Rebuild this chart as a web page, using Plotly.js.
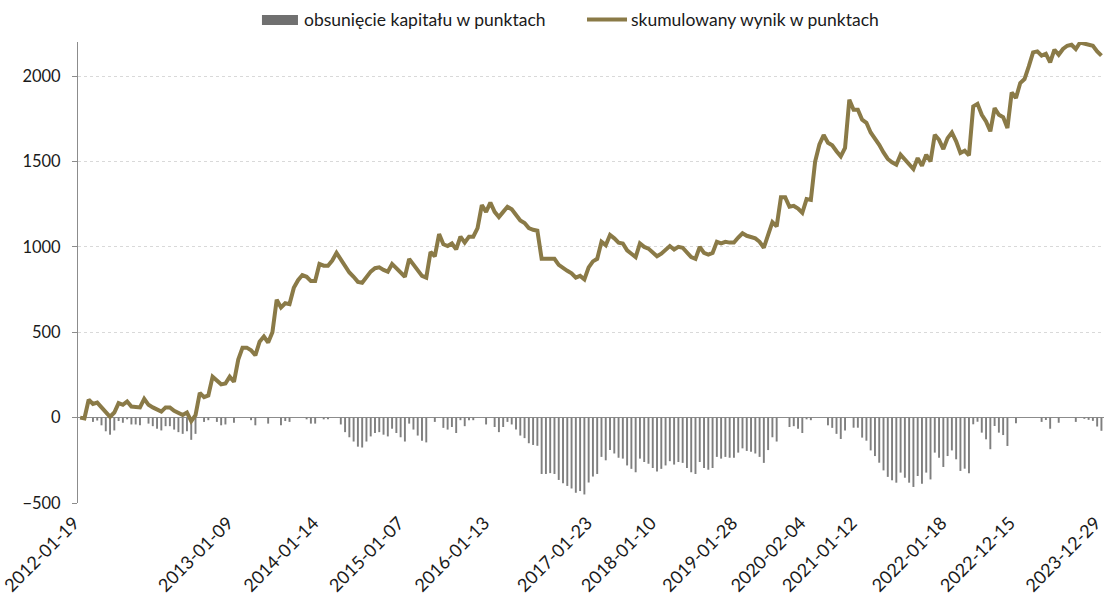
<!DOCTYPE html>
<html><head><meta charset="utf-8">
<script src="https://cdn.plot.ly/plotly-3.0.1.min.js"></script>
<style>html,body{margin:0;padding:0;background:#fff}#chart{width:1106px;height:598px}</style>
</head><body><div id="chart"></div>
<script>
const seriesNames = ['obsunięcie kapitału w punktach', 'skumulowany wynik w punktach'];

const cumulative = [
0,-5,105,80,88,60,25,5,30,85,
75,95,65,65,60,110,75,60,45,35,
60,60,40,25,15,30,-20,15,145,120,
130,240,215,195,200,240,210,340,410,410,
395,365,445,475,440,500,690,645,670,665,
760,805,835,825,800,800,900,890,890,920,
965,925,880,850,825,795,790,825,855,875,
880,865,855,900,875,850,825,930,895,860,
830,820,970,945,1075,1015,1005,1020,985,1060,
1025,1060,1060,1110,1245,1205,1260,1205,1175,1205,
1235,1220,1190,1155,1140,1110,1100,1095,930,930,
935,930,895,875,860,845,820,830,810,880,
915,930,1030,1010,1070,1050,1025,1020,980,960,
940,1020,1000,990,965,945,960,980,1005,985,
1000,995,965,940,930,1000,965,955,965,1030,
1020,1030,1025,1025,1055,1080,1065,1060,1050,1030,
995,1070,1145,1120,1290,1290,1235,1240,1225,1200,
1280,1275,1500,1600,1655,1610,1595,1560,1530,1580,
1862,1803,1803,1745,1727,1670,1637,1598,1553,1515,
1495,1481,1540,1510,1481,1456,1520,1475,1540,1500,
1657,1627,1573,1637,1670,1618,1550,1563,1536,1823,
1838,1774,1735,1677,1813,1774,1760,1696,1905,1872,
1960,1983,2057,2139,2145,2120,2131,2080,2155,2125,
2159,2178,2184,2159,2197,2190,2184,2178,2145,2120
];

const drawdown = [
0,-5,0,-25,-17,-45,-80,-100,-75,-20,
-30,-10,-40,-40,-45,0,-35,-50,-65,-75,
-50,-50,-70,-85,-95,-80,-130,-95,0,-25,
-15,0,-25,-45,-40,0,-30,0,0,0,
-15,-45,0,0,-35,0,0,-45,-20,-25,
0,0,0,-10,-35,-35,0,-10,-10,0,
0,-40,-85,-115,-140,-170,-175,-140,-110,-90,
-85,-100,-110,-65,-90,-115,-140,-35,-70,-105,
-135,-145,0,-25,0,-60,-70,-55,-90,-15,
-50,-15,-15,0,0,-40,0,-55,-85,-55,
-25,-40,-70,-105,-120,-150,-160,-165,-330,-330,
-325,-330,-365,-385,-400,-415,-440,-430,-450,-380,
-345,-330,-230,-250,-190,-210,-235,-240,-280,-300,
-320,-240,-260,-270,-295,-315,-300,-280,-255,-275,
-260,-265,-295,-320,-330,-260,-295,-305,-295,-230,
-240,-230,-235,-235,-205,-180,-195,-200,-210,-230,
-265,-190,-115,-140,0,0,-55,-50,-65,-90,
-10,-15,0,0,0,-45,-60,-95,-125,-75,
0,-59,-59,-117,-135,-192,-225,-264,-309,-347,
-367,-381,-322,-352,-381,-406,-342,-387,-322,-362,
-205,-235,-289,-225,-192,-244,-312,-299,-326,-39,
-24,-88,-127,-185,-49,-88,-102,-166,0,-33,
0,0,0,0,0,-25,-14,-65,0,-30,
0,0,0,-25,0,-7,-13,-19,-52,-77
];

const tickIndex = [0,36,56,76,96,120,135,154,170,182,203,219,239];
const tickLabels = ['2012-01-19','2013-01-09','2014-01-14','2015-01-07','2016-01-13','2017-01-23','2018-01-10','2019-01-28','2020-02-04','2021-01-12','2022-01-18','2022-12-15','2023-12-29'];
const yTicks = [-500,0,500,1000,1500,2000];

const lineColor = '#8a7a47';
const barColor = '#7f7f7f';
const axisGray = '#8c8c8c';
const textColor = '#1a1a1a';
const fontFamily = 'Lato, "Open Sans", sans-serif';

const traces = [
  {type:'bar', y: drawdown, name: seriesNames[0], marker:{color: barColor}, width: 0.45, showlegend:false, hoverinfo:'y'},
  {type:'scatter', mode:'lines', y: cumulative, name: seriesNames[1], line:{color: lineColor, width: 4}, showlegend:false}
];

const layout = {
  width:1106, height:598,
  margin:{l:78, r:2, t:42, b:95},
  paper_bgcolor:'#ffffff', plot_bgcolor:'#ffffff',
  font:{family: fontFamily, size:16, color: textColor},
  showlegend:false,
  xaxis:{range:[-0.5,239.6], tickmode:'array', tickvals: tickIndex, ticktext: tickLabels,
         tickangle:-45, showgrid:false, zeroline:false, showline:false, ticks:'',
         ticklabeloverflow:'allow', ticklabelshift:-6, ticklabelstandoff:5, automargin:false,
         tickfont:{size:18, color:textColor}},
  yaxis:{range:[-500,2200], tickmode:'array', tickvals: yTicks,
         showgrid:true, gridcolor:'#d9d9d9', griddash:'dot', gridwidth:1,
         zeroline:true, zerolinecolor: axisGray, zerolinewidth:1.5,
         showline:true, linecolor: axisGray, linewidth:1,
         ticks:'outside', ticklen:5, tickcolor: axisGray, ticklabelstandoff: 8,
         automargin:false,
         tickfont:{size:16.5, color:textColor}},
  shapes:[
    {type:'rect', xref:'paper', yref:'paper', x0:0.1793, x1:0.2144, y0:1.0369, y1:1.0586,
     fillcolor: '#707070', line:{width:0}},
    {type:'line', xref:'paper', yref:'paper', x0:0.4961, x1:0.5351, y0:1.0488, y1:1.0488,
     line:{color: lineColor, width:4}}
  ],
  annotations:[
    {xref:'paper', yref:'paper', x:0.2183, y:1.0488, xanchor:'left', yanchor:'middle',
     text: seriesNames[0], showarrow:false, font:{size:17.5, color:textColor}},
    {xref:'paper', yref:'paper', x:0.537, y:1.0488, xanchor:'left', yanchor:'middle',
     text: seriesNames[1], showarrow:false, font:{size:17.5, color:textColor}}
  ]
};

Plotly.newPlot('chart', traces, layout, {displayModeBar:false, staticPlot:true});
</script>
</body></html>
